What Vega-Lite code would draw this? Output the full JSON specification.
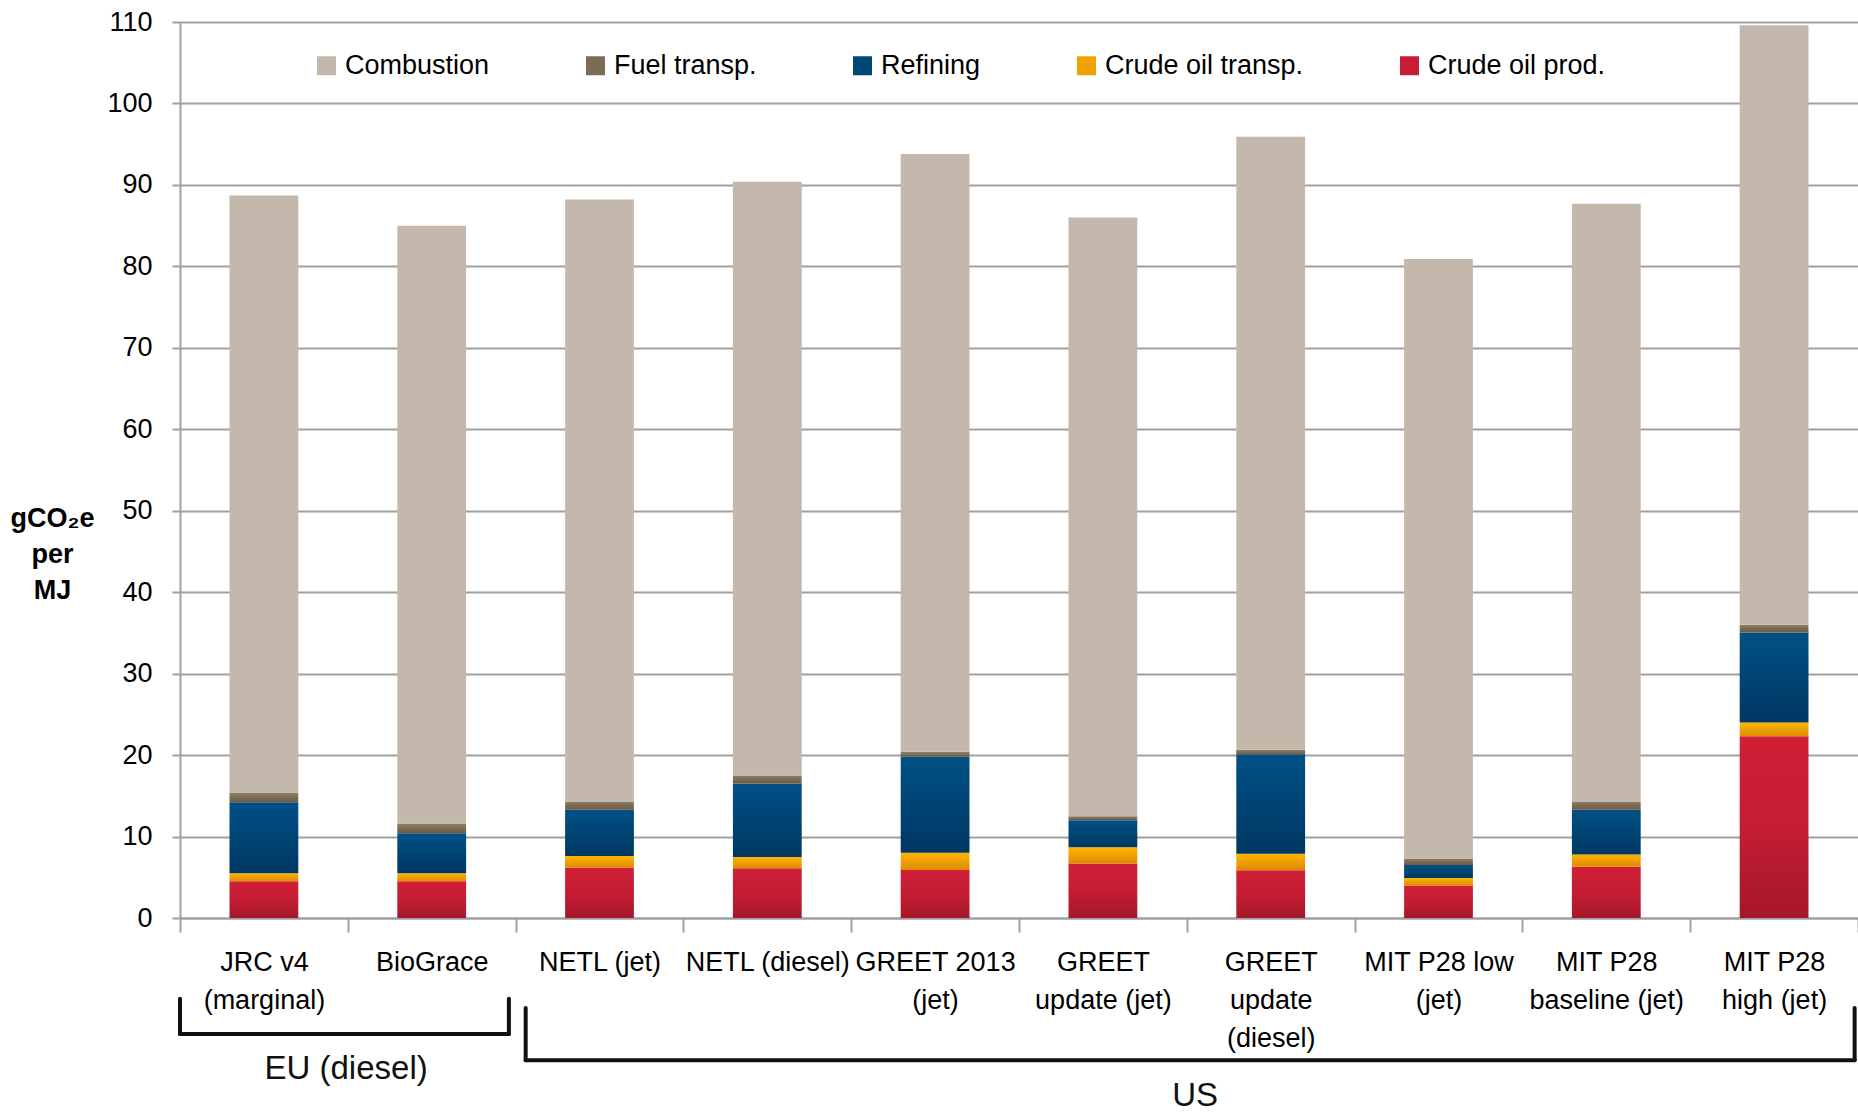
{
  "$schema": "https://vega.github.io/schema/vega-lite/v6.json",
  "width": 1678,
  "height": 896,
  "autosize": {"type": "none"},
  "padding": {"left": 180, "top": 22, "right": 0, "bottom": 195},
  "background": "white",
  "config": {
    "view": {"stroke": null},
    "font": "Liberation Sans",
    "text": {"font": "Liberation Sans"}
  },
  "datasets": {
    "emissions": [
      {"source": "JRC v4\n(marginal)", "component": "Crude oil prod.", "value": 4.5},
      {"source": "JRC v4\n(marginal)", "component": "Crude oil transp.", "value": 1.0},
      {"source": "JRC v4\n(marginal)", "component": "Refining", "value": 8.7},
      {"source": "JRC v4\n(marginal)", "component": "Fuel transp.", "value": 1.2},
      {"source": "JRC v4\n(marginal)", "component": "Combustion", "value": 73.3},
      {"source": "BioGrace", "component": "Crude oil prod.", "value": 4.5},
      {"source": "BioGrace", "component": "Crude oil transp.", "value": 1.0},
      {"source": "BioGrace", "component": "Refining", "value": 4.9},
      {"source": "BioGrace", "component": "Fuel transp.", "value": 1.2},
      {"source": "BioGrace", "component": "Combustion", "value": 73.4},
      {"source": "NETL (jet)", "component": "Crude oil prod.", "value": 6.2},
      {"source": "NETL (jet)", "component": "Crude oil transp.", "value": 1.4},
      {"source": "NETL (jet)", "component": "Refining", "value": 5.7},
      {"source": "NETL (jet)", "component": "Fuel transp.", "value": 1.0},
      {"source": "NETL (jet)", "component": "Combustion", "value": 73.9},
      {"source": "NETL (diesel)", "component": "Crude oil prod.", "value": 6.1},
      {"source": "NETL (diesel)", "component": "Crude oil transp.", "value": 1.4},
      {"source": "NETL (diesel)", "component": "Refining", "value": 9.0},
      {"source": "NETL (diesel)", "component": "Fuel transp.", "value": 1.0},
      {"source": "NETL (diesel)", "component": "Combustion", "value": 72.9},
      {"source": "GREET 2013\n(jet)", "component": "Crude oil prod.", "value": 5.9},
      {"source": "GREET 2013\n(jet)", "component": "Crude oil transp.", "value": 2.1},
      {"source": "GREET 2013\n(jet)", "component": "Refining", "value": 11.8},
      {"source": "GREET 2013\n(jet)", "component": "Fuel transp.", "value": 0.6},
      {"source": "GREET 2013\n(jet)", "component": "Combustion", "value": 73.4},
      {"source": "GREET\nupdate (jet)", "component": "Crude oil prod.", "value": 6.7},
      {"source": "GREET\nupdate (jet)", "component": "Crude oil transp.", "value": 2.0},
      {"source": "GREET\nupdate (jet)", "component": "Refining", "value": 3.3},
      {"source": "GREET\nupdate (jet)", "component": "Fuel transp.", "value": 0.5},
      {"source": "GREET\nupdate (jet)", "component": "Combustion", "value": 73.5},
      {"source": "GREET\nupdate\n(diesel)", "component": "Crude oil prod.", "value": 5.85},
      {"source": "GREET\nupdate\n(diesel)", "component": "Crude oil transp.", "value": 2.05},
      {"source": "GREET\nupdate\n(diesel)", "component": "Refining", "value": 12.2},
      {"source": "GREET\nupdate\n(diesel)", "component": "Fuel transp.", "value": 0.55},
      {"source": "GREET\nupdate\n(diesel)", "component": "Combustion", "value": 75.25},
      {"source": "MIT P28 low\n(jet)", "component": "Crude oil prod.", "value": 4.0},
      {"source": "MIT P28 low\n(jet)", "component": "Crude oil transp.", "value": 0.9},
      {"source": "MIT P28 low\n(jet)", "component": "Refining", "value": 1.6},
      {"source": "MIT P28 low\n(jet)", "component": "Fuel transp.", "value": 0.8},
      {"source": "MIT P28 low\n(jet)", "component": "Combustion", "value": 73.6},
      {"source": "MIT P28\nbaseline (jet)", "component": "Crude oil prod.", "value": 6.3},
      {"source": "MIT P28\nbaseline (jet)", "component": "Crude oil transp.", "value": 1.5},
      {"source": "MIT P28\nbaseline (jet)", "component": "Refining", "value": 5.5},
      {"source": "MIT P28\nbaseline (jet)", "component": "Fuel transp.", "value": 1.0},
      {"source": "MIT P28\nbaseline (jet)", "component": "Combustion", "value": 73.4},
      {"source": "MIT P28\nhigh (jet)", "component": "Crude oil prod.", "value": 22.3},
      {"source": "MIT P28\nhigh (jet)", "component": "Crude oil transp.", "value": 1.7},
      {"source": "MIT P28\nhigh (jet)", "component": "Refining", "value": 11.05},
      {"source": "MIT P28\nhigh (jet)", "component": "Fuel transp.", "value": 0.95},
      {"source": "MIT P28\nhigh (jet)", "component": "Combustion", "value": 73.6}
    ],
    "groups": [
      {"group": "EU (diesel)", "x_start": 0.0, "x_end": 1.96, "y_top": -9.9, "y_bottom": -14.25, "label_x": 0.99, "label_y": -18.5},
      {"group": "US", "x_start": 2.06, "x_end": 9.98, "y_top": -11.05, "y_bottom": -17.46, "label_x": 6.05, "label_y": -21.8}
    ]
  },
  "resolve": {"scale": {"x": "independent"}},
  "layer": [
    {
      "data": {"name": "emissions"},
      "transform": [
        {"stack": "value", "groupby": ["source"], "as": ["y0", "y1"]}
      ],
      "mark": {"type": "bar", "width": {"band": 0.41}, "clip": false},
      "encoding": {
        "x": {
          "field": "source",
          "type": "nominal",
          "sort": null,
          "scale": {"paddingInner": 0, "paddingOuter": 0},
          "axis": {
            "title": null,
            "labelAngle": 0,
            "labelFontSize": 27,
            "labelColor": "#000000",
            "labelExpr": "split(datum.label, '\\n')",
            "labelLineHeight": 38,
            "labelBaseline": "top",
            "labelPadding": 17,
            "labelLimit": 400,
            "labelOverlap": false,
            "labelFlush": false,
            "tickBand": "extent",
            "tickSize": 14,
            "tickColor": "#A0A0A0",
            "tickWidth": 2,
            "domainColor": "#A0A0A0",
            "domainWidth": 2,
            "grid": false
          }
        },
        "y": {
          "field": "y0",
          "type": "quantitative",
          "scale": {"domain": [0, 110], "nice": false, "zero": false},
          "axis": {
            "values": [0, 10, 20, 30, 40, 50, 60, 70, 80, 90, 100, 110],
            "title": ["gCO₂e", "per", "MJ"],
            "titleAngle": 0,
            "titleFontSize": 27,
            "titleFontWeight": "bold",
            "titleColor": "#000000",
            "titleAlign": "center",
            "titleBaseline": "middle",
            "titleLineHeight": 36,
            "titleX": -128,
            "titleY": 496,
            "labelFontSize": 27,
            "labelColor": "#000000",
            "labelPadding": 20,
            "labelBaseline": "middle",
            "grid": true,
            "gridColor": "#A0A0A0",
            "gridWidth": 2,
            "domainColor": "#A0A0A0",
            "domainWidth": 2,
            "tickSize": 8,
            "tickColor": "#A0A0A0",
            "tickWidth": 2
          }
        },
        "y2": {"field": "y1"},
        "color": {
          "condition": [
            {"test": "datum.component === 'Crude oil prod.'", "value": {"gradient": "linear", "x1": 0, "y1": 0, "x2": 0, "y2": 1, "stops": [{"offset": 0, "color": "#D01F37"}, {"offset": 0.5, "color": "#C41D33"}, {"offset": 1, "color": "#A5172A"}]}},
            {"test": "datum.component === 'Crude oil transp.'", "value": {"gradient": "linear", "x1": 0, "y1": 0, "x2": 0, "y2": 1, "stops": [{"offset": 0, "color": "#FFB500"}, {"offset": 1, "color": "#DE8A00"}]}},
            {"test": "datum.component === 'Refining'", "value": {"gradient": "linear", "x1": 0, "y1": 0, "x2": 0, "y2": 1, "stops": [{"offset": 0, "color": "#005186"}, {"offset": 1, "color": "#003763"}]}},
            {"test": "datum.component === 'Fuel transp.'", "value": {"gradient": "linear", "x1": 0, "y1": 0, "x2": 0, "y2": 1, "stops": [{"offset": 0, "color": "#8F7D65"}, {"offset": 1, "color": "#6B5A44"}]}}
          ],
          "field": "component",
          "type": "nominal",
          "scale": {
            "domain": ["Combustion", "Fuel transp.", "Refining", "Crude oil transp.", "Crude oil prod."],
            "range": ["#C4B8AC", "#7D6C55", "#004677", "#F2A200", "#C61E34"]
          },
          "legend": {
            "title": null,
            "orient": "none",
            "direction": "horizontal",
            "legendX": 133,
            "legendY": 30,
            "symbolType": "square",
            "symbolSize": 361,
            "symbolStrokeWidth": 0,
            "labelFontSize": 27,
            "labelColor": "#000000",
            "labelOffset": 5,
            "labelLimit": 400,
            "columnPadding": 92,
            "padding": 0
          }
        }
      }
    },
    {
      "data": {"name": "groups"},
      "mark": {"type": "rule", "color": "#111111", "strokeWidth": 4, "strokeCap": "round", "clip": false},
      "encoding": {
        "x": {"field": "x_start", "type": "quantitative", "scale": {"domain": [0, 10], "nice": false, "zero": false}, "axis": null},
        "x2": {"field": "x_end"},
        "y": {"field": "y_bottom", "type": "quantitative", "scale": {"domain": [0, 110], "nice": false, "zero": false}}
      }
    },
    {
      "data": {"name": "groups"},
      "mark": {"type": "rule", "color": "#111111", "strokeWidth": 4, "strokeCap": "round", "clip": false},
      "encoding": {
        "x": {"field": "x_start", "type": "quantitative", "scale": {"domain": [0, 10], "nice": false, "zero": false}, "axis": null},
        "y": {"field": "y_top", "type": "quantitative", "scale": {"domain": [0, 110], "nice": false, "zero": false}},
        "y2": {"field": "y_bottom"}
      }
    },
    {
      "data": {"name": "groups"},
      "mark": {"type": "rule", "color": "#111111", "strokeWidth": 4, "strokeCap": "round", "clip": false},
      "encoding": {
        "x": {"field": "x_end", "type": "quantitative", "scale": {"domain": [0, 10], "nice": false, "zero": false}, "axis": null},
        "y": {"field": "y_top", "type": "quantitative", "scale": {"domain": [0, 110], "nice": false, "zero": false}},
        "y2": {"field": "y_bottom"}
      }
    },
    {
      "data": {"name": "groups"},
      "mark": {"type": "text", "fontSize": 33, "color": "#111111", "baseline": "middle", "align": "center", "clip": false},
      "encoding": {
        "x": {"field": "label_x", "type": "quantitative", "scale": {"domain": [0, 10], "nice": false, "zero": false}, "axis": null},
        "y": {"field": "label_y", "type": "quantitative", "scale": {"domain": [0, 110], "nice": false, "zero": false}},
        "text": {"field": "group"}
      }
    }
  ]
}
